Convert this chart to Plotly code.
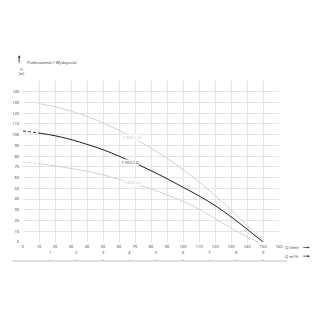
import plotly.graph_objects as go

# Data
q_main = [10, 20, 30, 40, 50, 60, 70, 80, 90, 100, 110, 120, 130, 140, 150]
h_main = [101.5, 99, 95.5, 91, 86, 80, 73.5, 66.5, 59, 51, 43, 34, 23.5, 12, 0]
q_main_dash = [0, 10]
h_main_dash = [103.5, 101.5]

q_top = [9.5, 20, 30, 40, 50, 60, 70, 80, 90, 100, 110, 120, 130, 140, 150]
h_top = [129, 126, 122, 117, 111, 104, 96, 87.5, 78, 67.5, 56, 43.5, 30, 15.5, 0]

q_low = [10, 20, 30, 40, 50, 60, 70, 80, 90, 100, 110, 120, 130, 140, 147]
h_low = [73, 71, 68.5, 66, 62.5, 58.5, 54, 49.5, 44, 38, 30.5, 22, 13, 5, 0]
q_low_dash = [0, 10]
h_low_dash = [74.5, 73]

x_ticks = list(range(0, 161, 10))
y_ticks = list(range(0, 151, 10))
y_ticktext = [str(v) if v <= 140 else "" for v in y_ticks]
m3h_ticks = [1, 2, 3, 4, 5, 6, 7, 8, 9]

labels = ["F 30/2-5-10", "F 30/2-5-8", "F 30/2-5-6"]
label_q = [68, 67, 68]
label_h = [97, 74.5, 55]
label_col = ["#bdbdbd", "#333333", "#bdbdbd"]

GRAY = "#d2d2d2"
BLACK = "#222222"
FONT = "Open Sans"

fig = go.Figure()
fig.add_trace(go.Scatter(x=q_top, y=h_top, mode="lines", line=dict(color=GRAY, width=1, shape="spline"), hoverinfo="skip"))
fig.add_trace(go.Scatter(x=q_low_dash, y=h_low_dash, mode="lines", line=dict(color=GRAY, width=1, dash="3px,2px"), hoverinfo="skip"))
fig.add_trace(go.Scatter(x=q_low, y=h_low, mode="lines", line=dict(color=GRAY, width=1, shape="spline"), hoverinfo="skip"))
fig.add_trace(go.Scatter(x=q_main_dash, y=h_main_dash, mode="lines", line=dict(color=BLACK, width=0.9, dash="3px,2px"), hoverinfo="skip"))
fig.add_trace(go.Scatter(x=q_main, y=h_main, mode="lines", line=dict(color=BLACK, width=1.0, shape="spline"), hoverinfo="skip"))

for t, qx, hy, c in zip(labels, label_q, label_h, label_col):
    fig.add_annotation(x=qx, y=hy, xref="x", yref="y", text=t, showarrow=False,
                       font=dict(family=FONT, size=3.5, color=c), bgcolor="white", borderpad=0)

# secondary axis (m3/h)
for v in m3h_ticks:
    xv = v * 1000 / 60
    fig.add_annotation(x=xv, y=-0.088, xref="x", yref="paper", text=str(v), showarrow=False,
                       font=dict(family=FONT, size=4, color="#333"), borderpad=0)
    fig.add_shape(type="line", x0=xv, x1=xv, xref="x", y0=-0.106, y1=-0.115, yref="paper",
                  line=dict(color="#888", width=0.6))
fig.add_shape(type="rect", x0=-0.042, x1=1.031, xref="paper", y0=-0.123, y1=-0.114, yref="paper",
              fillcolor="#d4d4d4", line=dict(width=0))

fig.add_annotation(x=1.0, y=-0.034, xref="paper", yref="paper", xanchor="left", yanchor="middle", text="Q l/min",
                   showarrow=False, font=dict(family=FONT, size=4, color="#333"), xshift=5, borderpad=0)
fig.add_annotation(x=1.0, y=-0.088, xref="paper", yref="paper", xanchor="left", yanchor="middle", text="Q m³/h",
                   showarrow=False, font=dict(family=FONT, size=4, color="#333"), xshift=5, borderpad=0)
for yy in (-0.034, -0.088):
    fig.add_annotation(x=1.12, y=yy, xref="paper", yref="paper", text="", showarrow=True,
                       ax=-8, ay=0, arrowhead=2, arrowsize=0.6, arrowwidth=0.7, arrowcolor="#222")

# header
fig.add_annotation(x=0.008, y=1.115, xref="paper", yref="paper", xanchor="left", yanchor="middle",
                   text="Podnoszenie / Wydajność",
                   showarrow=False, font=dict(family=FONT, size=4.2, color="#333"))
fig.add_annotation(x=-0.015, y=1.16, xref="paper", yref="paper", text="", showarrow=True,
                   ax=0, ay=9, arrowhead=2, arrowsize=0.6, arrowwidth=0.8, arrowcolor="#222")
fig.add_annotation(x=-0.022, y=1.056, xref="paper", yref="paper", yanchor="middle", text="H<br>[m]",
                   showarrow=False, font=dict(family=FONT, size=3.2, color="#333"))

fig.update_layout(
    width=320, height=320,
    margin=dict(l=18, r=41, t=81, b=78),
    paper_bgcolor="white", plot_bgcolor="white",
    showlegend=False,
    font=dict(family=FONT, size=4, color="#333"),
    xaxis=dict(range=[0, 160], tickvals=x_ticks, showgrid=True, gridcolor="#e4e4e4", gridwidth=0.8,
               zeroline=False, showline=False, ticks="", ticklabelstandoff=1,
               tickfont=dict(family=FONT, size=4, color="#333")),
    yaxis=dict(range=[0, 150], tickvals=y_ticks, ticktext=y_ticktext, showgrid=True, gridcolor="#e4e4e4",
               gridwidth=0.8, zeroline=False, showline=False, ticks="", ticklabelstandoff=3,
               tickfont=dict(family=FONT, size=4, color="#333")),
)

fig.write_html("out.html")
